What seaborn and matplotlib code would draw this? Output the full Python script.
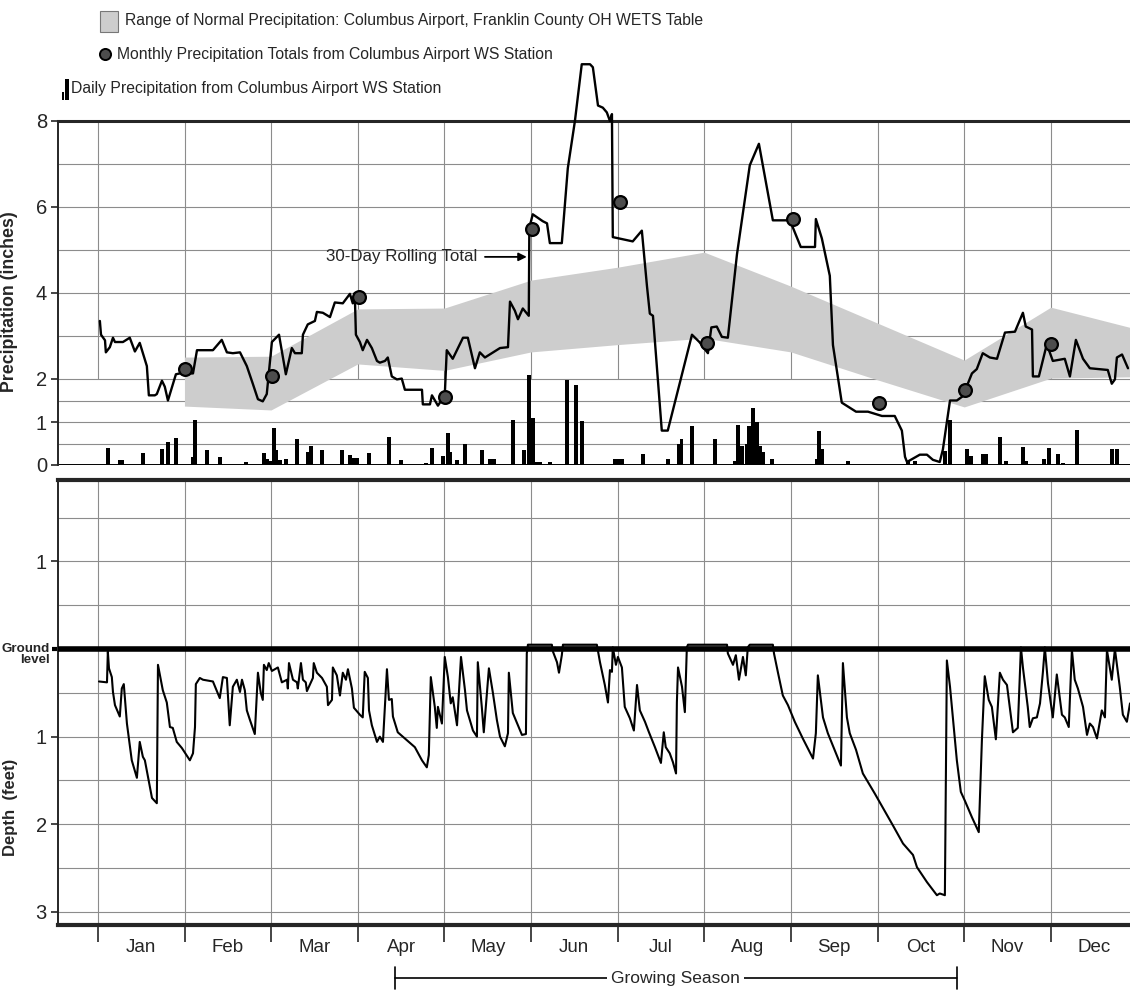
import numpy as np
import matplotlib
matplotlib.use('Agg')
import matplotlib.pyplot as plt
import matplotlib.transforms as mtransforms
from matplotlib.patches import Rectangle
from matplotlib.lines import Line2D
import seaborn as sns

# ---- data (x in day of year, months drawn equal width) ----
months = ['Jan', 'Feb', 'Mar', 'Apr', 'May', 'Jun', 'Jul', 'Aug', 'Sep', 'Oct', 'Nov', 'Dec']

# WETS normal range (inches), knots at month starts
normal_day = [30.4, 60.8, 91.25, 121.7, 152.1, 182.5, 212.9, 243.3, 273.75, 304.2, 334.6, 362.4]
normal_lo = [1.37, 1.28, 2.35, 2.20, 2.63, 2.80, 2.95, 2.63, 1.98, 1.35, 2.02, 2.05]
normal_hi = [2.51, 2.53, 3.63, 3.65, 4.30, 4.60, 4.95, 4.16, 3.30, 2.44, 3.67, 3.20]

# monthly totals (inches)
month_end_day = [30.5, 61.1, 91.6, 121.8, 152.4, 183.3, 213.8, 244.0, 274.2, 304.4, 334.6]
monthly_in = [2.23, 2.06, 3.90, 1.58, 5.50, 6.12, 2.84, 5.72, 1.45, 1.75, 2.81]

# 30-day rolling total (inches)
roll_day = [0.7, 1.1, 2.5, 2.8, 4.2, 5.3, 6.0, 8.8, 11.2, 13.0, 14.7, 17.2, 17.9, 20.0, 20.7,
            22.5, 23.5, 24.6, 27.4, 28.8, 33.4, 34.8, 40.4, 43.5, 45.3, 47.4, 49.9, 52.3, 54.4,
            56.2, 57.9, 59.3, 61.1, 63.6, 66.0, 68.1, 69.2, 71.6, 72.0, 73.7, 76.2, 76.9, 79.0,
            81.5, 83.2, 86.0, 88.5, 89.5, 90.2, 90.6, 92.0, 93.0, 94.5, 96.2, 98.0, 99.0, 100.8,
            101.8, 103.2, 105.0, 106.7, 107.8, 113.8, 114.1, 116.6, 117.3, 119.4, 121.8, 122.5,
            124.6, 128.2, 129.9, 132.4, 134.1, 135.9, 141.2, 144.0, 144.7, 146.4, 147.5, 149.2,
            151.3, 151.5, 152.7, 156.2, 157.7, 158.7, 162.9, 165.0, 167.5, 169.9, 172.8, 173.8,
            175.6, 177.3, 178.7, 179.8, 180.5, 180.8, 184.3, 187.8, 191.0, 192.8, 193.8, 194.9,
            198.0, 200.1, 208.6, 211.2, 214.2, 215.4, 217.3, 219.1, 221.2, 224.4, 228.9, 232.1,
            237.0, 243.0, 246.8, 251.8, 252.1, 254.2, 257.0, 258.1, 261.2, 266.2, 270.4, 275.3,
            279.8, 282.3, 283.4, 284.1, 288.6, 291.1, 293.2, 295.6, 296.7, 299.2, 301.6, 303.7,
            306.9, 308.6, 310.7, 313.2, 315.7, 318.5, 322.0, 324.8, 325.8, 328.0, 328.3, 330.4,
            333.2, 335.3, 339.5, 341.3, 343.4, 345.9, 348.3, 354.6, 356.0, 357.1, 357.8, 359.6,
            361.7]
roll_in = [3.35, 3.03, 2.90, 2.62, 2.74, 2.96, 2.86, 2.86, 2.96, 2.64, 2.84, 2.30, 1.62, 1.62, 1.65,
           1.96, 1.82, 1.50, 2.11, 2.13, 2.13, 2.67, 2.67, 2.91, 2.62, 2.60, 2.62, 2.30, 1.89,
           1.53, 1.48, 1.65, 2.86, 3.03, 2.11, 2.72, 2.60, 2.60, 3.03, 3.27, 3.35, 3.56, 3.54,
           3.44, 3.78, 3.76, 3.98, 3.76, 4.00, 3.03, 2.86, 2.67, 2.91, 2.72, 2.42, 2.38, 2.42,
           2.50, 2.06, 1.99, 2.01, 1.75, 1.75, 1.41, 1.41, 1.62, 1.38, 1.62, 2.67,
           2.47, 2.96, 2.96, 2.25, 2.62, 2.50, 2.72, 2.74, 3.80, 3.59, 3.39, 3.64,
           3.47, 5.52, 5.83, 5.67, 5.62, 5.16, 5.16, 6.90, 8.00, 9.32, 9.32, 9.25,
           8.36, 8.31, 8.20, 8.00, 8.16, 5.30, 5.25, 5.20, 5.45, 4.16, 3.52, 3.47,
           0.80, 0.80, 3.03, 2.86, 2.60, 3.20, 3.22, 2.98, 2.96, 4.90, 6.97, 7.47,
           5.69, 5.69, 5.07, 5.07, 5.72, 5.27, 4.40, 2.79, 1.45, 1.24, 1.24, 1.14,
           1.14, 0.80, 0.19, 0.07, 0.24, 0.24, 0.12, 0.07, 0.36, 1.50, 1.50, 1.60,
           2.13, 2.23, 2.60, 2.50, 2.47, 3.08, 3.10, 3.54, 3.22, 3.15, 2.06, 2.06,
           2.81, 2.42, 2.47, 2.06, 2.91, 2.47, 2.25, 2.21, 1.89, 1.99, 2.50, 2.57,
           2.25]

# daily precipitation (inches)
daily_day = [3.5, 7.7, 8.4, 15.8, 22.5, 24.6, 27.4, 33.4, 34.1, 38.3, 42.8, 52.0, 58.3, 59.3,
             60.4, 61.8, 62.5, 63.9, 66.0, 69.9, 73.7, 74.8, 78.7, 85.7, 88.5, 89.9, 90.9, 95.2,
             102.2, 106.4, 115.2, 117.3, 121.1, 122.9, 123.6, 126.1, 128.9, 134.8, 137.6, 139.0,
             145.7, 149.6, 151.3, 152.7, 154.1, 155.2, 158.7, 164.7, 167.8, 169.9, 181.5, 182.9,
             184.0, 191.4, 200.1, 204.0, 205.0, 208.6, 216.6, 223.7, 224.7, 226.1, 227.9, 228.6,
             230.0, 231.4, 232.5, 233.5, 236.7, 252.5, 253.2, 254.2, 263.3, 284.4, 286.9, 297.4,
             299.2, 305.1, 306.5, 310.7, 311.8, 316.7, 318.8, 324.8, 325.8, 332.2, 333.9, 337.1,
             338.8, 343.7, 356.0, 357.8]
daily_in = [0.39, 0.12, 0.12, 0.27, 0.38, 0.54, 0.62, 0.18, 1.05, 0.35, 0.19, 0.08, 0.28, 0.15,
            0.10, 0.85, 0.35, 0.12, 0.14, 0.60, 0.30, 0.45, 0.35, 0.35, 0.24, 0.16, 0.16, 0.28,
            0.65, 0.12, 0.04, 0.39, 0.20, 0.75, 0.30, 0.12, 0.50, 0.36, 0.15, 0.15,
            1.05, 0.36, 2.10, 1.10, 0.08, 0.08, 0.08, 1.97, 1.87, 1.02, 0.15, 0.15,
            0.15, 0.25, 0.13, 0.50, 0.60, 0.90, 0.60, 0.10, 0.92, 0.45, 0.50, 0.90,
            1.33, 1.00, 0.44, 0.30, 0.14, 0.14, 0.78, 0.38, 0.10, 0.10, 0.10, 0.33,
            1.05, 0.38, 0.20, 0.25, 0.25, 0.65, 0.10, 0.42, 0.10, 0.15, 0.40, 0.25,
            0.05, 0.82, 0.38, 0.38]

# water table depth below ground (feet, negative = above ground)
well_day = [0.4, 3.2, 3.5, 3.9, 4.9, 5.3, 6.0, 7.7, 8.4, 9.1, 10.2, 11.9, 13.7, 14.7, 15.8, 16.5,
            19.0, 20.7, 21.1, 22.8, 24.2, 25.3, 26.3, 27.7, 29.5, 32.3, 33.4, 34.1, 34.4, 35.8,
            36.9, 40.4, 42.8, 43.9, 45.3, 46.3, 47.4, 48.8, 49.9, 50.6, 51.6, 52.3, 53.4, 55.1,
            56.2, 57.2, 57.9, 58.3, 59.3, 60.0, 61.1, 63.2, 64.6, 66.4, 66.7, 67.1, 68.5, 69.9,
            70.2, 71.3, 72.0, 73.0, 73.4, 75.5, 75.8, 76.9, 78.7, 80.4, 80.8, 82.2, 82.5, 83.9,
            85.0, 86.0, 87.1, 87.8, 89.2, 89.9, 92.0, 93.0, 93.7, 94.8, 95.2, 96.2, 98.0, 99.0,
            100.1, 101.5, 102.2, 103.2, 103.6, 105.3, 108.5, 111.3, 113.8, 115.5, 116.2, 116.9,
            118.3, 119.0, 119.4, 120.8, 121.8, 122.9, 123.9, 124.6, 126.1, 127.5, 128.9, 129.6,
            131.7, 133.1, 133.4, 134.8, 135.5, 137.3, 138.7, 140.1, 141.2, 142.9, 144.0, 144.3,
            145.7, 147.5, 148.9, 150.3, 150.6, 151.0, 159.4, 159.8, 161.2, 161.9, 162.9, 163.3,
            175.2, 176.3, 178.0, 179.1, 179.8, 180.5, 180.8, 181.9, 182.6, 184.0, 185.0, 186.8,
            188.2, 189.3, 190.3, 192.1, 193.5, 195.6, 197.7, 198.7, 199.4, 200.8, 201.9, 203.0,
            203.3, 203.7, 205.1, 206.1, 206.8, 207.2, 220.9, 221.2, 223.0, 224.0, 225.1, 226.5,
            227.5, 228.2, 228.9, 237.0, 237.4, 238.8, 240.5, 242.3, 244.7, 247.5, 251.1, 252.1,
            252.8, 254.6, 256.3, 260.9, 261.6, 263.0, 264.0, 266.2, 268.6, 272.8, 279.1, 282.7,
            286.2, 287.6, 291.1, 294.6, 295.6, 297.4, 298.1, 299.2, 301.6, 303.0, 304.4, 306.9,
            309.3, 310.4, 311.4, 312.8, 313.9, 315.3, 316.7, 317.8, 319.2, 321.3, 323.0, 324.1,
            324.8, 326.5, 327.2, 328.3, 329.7, 330.8, 331.8, 332.5, 333.6, 335.3, 336.7, 338.5,
            339.5, 340.9, 342.0, 343.0, 344.1, 345.9, 347.3, 348.3, 349.4, 350.8, 352.5, 353.6,
            354.3, 356.0, 357.1, 358.8, 359.9, 361.3, 362.4]
well_depth = [0.37, 0.38, 0.03, 0.22, 0.32, 0.49, 0.64, 0.77, 0.45, 0.40, 0.85, 1.27, 1.47, 1.06, 1.23, 1.27,
              1.70, 1.76, 0.18, 0.47, 0.61, 0.89, 0.90, 1.06, 1.13, 1.27, 1.19, 0.89, 0.40, 0.33,
              0.35, 0.37, 0.56, 0.32, 0.33, 0.87, 0.43, 0.35, 0.49, 0.35, 0.47, 0.70, 0.81, 0.97,
              0.27, 0.50, 0.58, 0.18, 0.24, 0.16, 0.25, 0.21, 0.38, 0.35, 0.45, 0.16, 0.35, 0.38,
              0.45, 0.16, 0.35, 0.38, 0.48, 0.33, 0.16, 0.27, 0.33, 0.43, 0.64, 0.58, 0.21, 0.30,
              0.53, 0.27, 0.35, 0.23, 0.45, 0.67, 0.75, 0.78, 0.26, 0.33, 0.70, 0.87, 1.06, 1.00,
              1.06, 0.23, 0.58, 0.57, 0.77, 0.95, 1.04, 1.12, 1.27, 1.35, 1.21, 0.32,
              0.66, 0.90, 0.66, 0.85, 0.09, 0.32, 0.62, 0.55, 0.87, 0.09, 0.47, 0.70,
              0.93, 1.00, 0.15, 0.66, 0.95, 0.22, 0.50, 0.81, 1.00, 1.11, 0.96, 0.27,
              0.73, 0.87, 0.98, 0.97, 0.05, -0.05, -0.05, 0.03, 0.15, 0.27, 0.07, -0.05,
              -0.05, 0.15, 0.41, 0.61, 0.24, 0.26, -0.02, 0.18, 0.09, 0.21, 0.66, 0.79,
              0.93, 0.41, 0.70, 0.83, 0.95, 1.12, 1.30, 0.95, 1.12, 1.19, 1.29, 1.42,
              0.61, 0.21, 0.43, 0.72, -0.02, -0.05, -0.05, 0.05, 0.18, 0.07, 0.35, 0.09,
              0.30, -0.02, -0.05, -0.05, 0.05, 0.27, 0.53, 0.64, 0.83, 1.02, 1.25, 0.96,
              0.30, 0.78, 0.96, 1.33, 0.16, 0.78, 0.96, 1.15, 1.42, 1.65, 2.01, 2.22,
              2.35, 2.49, 2.66, 2.81, 2.79, 2.81, 0.13, 0.43, 1.27, 1.63, 1.73, 1.92,
              2.09, 1.04, 0.31, 0.58, 0.66, 1.03, 0.27, 0.35, 0.41, 0.95, 0.90, -0.02,
              0.21, 0.66, 0.89, 0.79, 0.78, 0.62, 0.27, -0.02, 0.39, 0.78, 0.29, 0.75,
              0.78, 0.89, 0.01, 0.35, 0.45, 0.66, 0.98, 0.85, 0.89, 1.02, 0.70, 0.78,
              0.01, 0.35, 0.00, 0.43, 0.75, 0.83, 0.62]

growing_start, growing_end = 104.3, 301.6

# ---- style ----
sns.set_style('white')
plt.rcParams['font.family'] = ['Liberation Sans', 'DejaVu Sans']

W, H = 1130, 993
fig = plt.figure(figsize=(W / 100, H / 100), dpi=100)

def fx(x):
    return x / W

def fy(y):
    return 1 - y / H

ax1 = fig.add_axes([fx(58), fy(465), 1 - fx(58), fy(121) - fy(465)])
ax2 = fig.add_axes([fx(58), fy(925), 1 - fx(58), fy(480) - fy(925)])

month_len = 365 / 12
bounds = np.arange(12) * month_len
centers = bounds + month_len / 2
xlim = (-14.0, 362.4)
grid_c = '#8c8c8c'

# ---- upper panel: precipitation ----
for v in [0.5, 1, 1.5, 2, 3, 4, 5, 6, 7]:
    ax1.axhline(v, color=grid_c, lw=0.8, zorder=0)
ax1.vlines(bounds, 2, 8, color=grid_c, lw=0.8, zorder=0)

ax1.fill_between(normal_day, normal_lo, normal_hi, color='#cdcdcd', lw=0, zorder=1)
ax1.bar(daily_day, daily_in, width=1.25, color='black', lw=0, zorder=3)
sns.lineplot(x=roll_day, y=roll_in, ax=ax1, color='black', lw=1.7,
             estimator=None, sort=False, zorder=4)
ax1.lines[-1].set_clip_on(False)
sns.scatterplot(x=month_end_day, y=monthly_in, ax=ax1, s=85, color='#4d4d4d',
                edgecolor='black', linewidth=1.6, zorder=6)

ax1.set_xlim(*xlim)
ax1.set_ylim(0, 8)
ax1.set_yticks([0, 1, 2, 4, 6, 8])
ax1.set_xticks([])
ax1.tick_params(axis='y', labelsize=14.5, length=5, width=1.2, direction='out',
                left=True, pad=3)
for s in ['right', 'bottom']:
    ax1.spines[s].set_visible(False)
ax1.spines['top'].set_linewidth(2.2)
ax1.spines['left'].set_linewidth(1.4)
ax1.axhline(0, color='black', lw=1.4, zorder=2)
ax1.set_ylabel('Precipitation (inches)', fontsize=12.8, fontweight='bold')
ax1.yaxis.set_label_coords(-0.0373, 0.474)

ax1.annotate('30-Day Rolling Total', xy=(150.6, 4.84), xytext=(133.3, 4.84),
             fontsize=12.2, ha='right', va='center',
             arrowprops=dict(arrowstyle='-|>', color='black', lw=1.3,
                             mutation_scale=12, shrinkA=3, shrinkB=0))

# ---- lower panel: water table ----
for v in [-1.5, -1, -0.5, 0.5, 1, 1.5, 2, 2.5, 3]:
    ax2.axhline(v, color=grid_c, lw=0.8, zorder=0)
ax2.vlines(bounds, -1.93, 3.15, color=grid_c, lw=0.8, zorder=0)

wd = np.array(well_day)
wv = np.array(well_depth)
ax2.fill_between(wd, wv, 0, where=wv < 0, interpolate=True, color='#9a9a9a', lw=0, zorder=2)
ax2.axhline(0, color='black', lw=4, zorder=3)
sns.lineplot(x=well_day, y=well_depth, ax=ax2, color='black', lw=1.5,
             estimator=None, sort=False, zorder=4)

ax2.set_xlim(*xlim)
ax2.set_ylim(3.15, -1.93)
ax2.set_yticks([-1, 1, 2, 3])
ax2.set_yticklabels(['1', '1', '2', '3'])
ax2.tick_params(axis='y', labelsize=14.5, length=5, width=1.2, direction='out',
                left=True, pad=3)
# ground level label with its own tick
ax2.plot([-0.006, 0], [0, 0], transform=ax2.get_yaxis_transform(), color='black',
         lw=3, clip_on=False, solid_capstyle='butt')
ax2.text(-0.0075, 0.06, 'Ground\nlevel', transform=ax2.get_yaxis_transform(),
         ha='right', va='center', fontsize=9.6, fontweight='bold', linespacing=0.9)

ax2.set_xticks(bounds)
ax2.set_xticklabels([])
ax2.set_xticks(centers, minor=True)
ax2.set_xticklabels(months, minor=True)
ax2.tick_params(axis='x', which='major', length=12, width=1.2, direction='out', bottom=True)
ax2.tick_params(axis='x', which='minor', length=0, labelsize=13.5, pad=10, bottom=True)
ax2.spines['right'].set_visible(False)
ax2.spines['top'].set_linewidth(3)
ax2.spines['bottom'].set_linewidth(3)
ax2.spines['left'].set_linewidth(1.4)
ax2.set_ylabel('Depth  (feet)', fontsize=12, fontweight='bold')
ax2.yaxis.set_label_coords(-0.0373, 0.265)

# growing season bracket
trans = mtransforms.blended_transform_factory(ax2.transData, fig.transFigure)
ax2.annotate('', xy=(growing_start, fy(978)), xytext=(growing_end, fy(978)),
             xycoords=trans, textcoords=trans,
             arrowprops=dict(arrowstyle='|-|', color='black', lw=1.2,
                             mutation_scale=8, shrinkA=0, shrinkB=0),
             annotation_clip=False)
ax2.text((growing_start + growing_end) / 2, fy(978), 'Growing Season', transform=trans,
         ha='center', va='center', fontsize=12.5,
         bbox=dict(facecolor='white', edgecolor='none', pad=3))

# ---- legend at top ----
fig.add_artist(Rectangle((fx(100), fy(32)), fx(18), fy(11) - fy(32),
                         transform=fig.transFigure, facecolor='#cdcdcd',
                         edgecolor='#777777', lw=0.8))
fig.text(fx(125), fy(21), 'Range of Normal Precipitation: Columbus Airport, Franklin County OH WETS Table',
         fontsize=11.3, va='center', ha='left')
fig.add_artist(Line2D([fx(105)], [fy(54)], transform=fig.transFigure, marker='o',
                      markersize=8, markerfacecolor='#4d4d4d', markeredgecolor='black',
                      markeredgewidth=1.4, linestyle='none'))
fig.text(fx(117), fy(54), 'Monthly Precipitation Totals from Columbus Airport WS Station',
         fontsize=11.3, va='center', ha='left')
fig.add_artist(Rectangle((fx(62), fy(100)), fx(2), fy(92) - fy(100),
                         transform=fig.transFigure, facecolor='black', lw=0))
fig.add_artist(Rectangle((fx(65), fy(100)), fx(4), fy(79) - fy(100),
                         transform=fig.transFigure, facecolor='black', lw=0))
fig.text(fx(71), fy(89), 'Daily Precipitation from Columbus Airport WS Station',
         fontsize=11.3, va='center', ha='left')

fig.savefig('out.png', dpi=100)
